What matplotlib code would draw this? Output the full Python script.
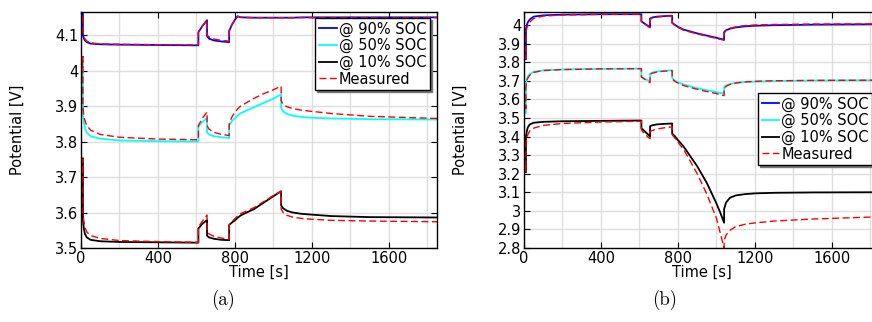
import matplotlib
matplotlib.use("Agg")
import matplotlib.pyplot as plt
from matplotlib.ticker import MultipleLocator, FuncFormatter

# ---------------- data ----------------
time_s = [0, 10, 10, 15, 20, 30, 50, 100, 200, 400,
          610, 610, 630, 655, 655, 665, 690, 730, 770, 770,
          785, 800, 814, 830, 900, 950, 1000, 1020, 1040, 1040,
          1050, 1070, 1100, 1150, 1200, 1300, 1500, 1850]

# panel (a)
a90_sim = [4.16, 4.20, 4.10, 4.09, 4.085, 4.08, 4.076, 4.074, 4.073, 4.072,
           4.071, 4.108, 4.125, 4.142, 4.097, 4.09, 4.085, 4.082, 4.080, 4.112,
           4.13, 4.143, 4.153, 4.150, 4.149, 4.149, 4.149, 4.149, 4.149, 4.149,
           4.149, 4.149, 4.149, 4.150, 4.150, 4.150, 4.150, 4.150]
a90_meas = [4.16, 4.20, 4.11, 4.095, 4.09, 4.083, 4.078, 4.075, 4.074, 4.073,
            4.072, 4.108, 4.125, 4.142, 4.10, 4.095, 4.089, 4.085, 4.083, 4.112,
            4.13, 4.143, 4.153, 4.150, 4.149, 4.149, 4.149, 4.149, 4.149, 4.149,
            4.149, 4.149, 4.149, 4.149, 4.149, 4.149, 4.149, 4.149]
a50_sim = [3.95, 4.038, 3.88, 3.855, 3.84, 3.825, 3.815, 3.808, 3.803, 3.801,
           3.80, 3.842, 3.855, 3.866, 3.826, 3.82, 3.815, 3.812, 3.81, 3.845,
           3.858, 3.866, 3.873, 3.88, 3.897, 3.909, 3.921, 3.927, 3.932, 3.895,
           3.885, 3.878, 3.873, 3.869, 3.867, 3.865, 3.863, 3.862]
a50_meas = [3.95, 4.04, 3.90, 3.87, 3.86, 3.845, 3.832, 3.82, 3.812, 3.807,
            3.805, 3.845, 3.865, 3.883, 3.845, 3.835, 3.826, 3.82, 3.817, 3.85,
            3.87, 3.882, 3.892, 3.90, 3.922, 3.935, 3.946, 3.951, 3.956, 3.915,
            3.905, 3.898, 3.893, 3.888, 3.885, 3.879, 3.871, 3.865]
a10_sim = [3.68, 3.753, 3.58, 3.555, 3.54, 3.53, 3.523, 3.519, 3.517, 3.516,
           3.515, 3.555, 3.568, 3.579, 3.535, 3.53, 3.526, 3.523, 3.522, 3.565,
           3.572, 3.578, 3.585, 3.592, 3.61, 3.628, 3.646, 3.653, 3.66, 3.62,
           3.612, 3.605, 3.60, 3.596, 3.594, 3.59, 3.587, 3.586]
a10_meas = [3.68, 3.75, 3.60, 3.575, 3.56, 3.545, 3.535, 3.527, 3.521, 3.518,
            3.516, 3.56, 3.575, 3.593, 3.545, 3.54, 3.533, 3.528, 3.525, 3.565,
            3.575, 3.583, 3.59, 3.597, 3.614, 3.631, 3.648, 3.654, 3.66, 3.61,
            3.60, 3.592, 3.587, 3.583, 3.581, 3.578, 3.576, 3.574]

# panel (b)
b90_sim = [3.90, 3.815, 3.98, 4.00, 4.015, 4.03, 4.045, 4.052, 4.056, 4.058,
           4.058, 4.02, 4.005, 3.988, 4.035, 4.04, 4.045, 4.048, 4.05, 4.012,
           4.0, 3.99, 3.983, 3.975, 3.955, 3.943, 3.931, 3.926, 3.922, 3.962,
           3.972, 3.98, 3.987, 3.993, 3.996, 3.999, 4.002, 4.004]
b90_meas = [3.90, 3.82, 3.96, 3.985, 4.0, 4.015, 4.035, 4.048, 4.054, 4.057,
            4.058, 4.02, 4.003, 3.985, 4.03, 4.037, 4.043, 4.047, 4.049, 4.01,
            3.998, 3.988, 3.98, 3.972, 3.952, 3.94, 3.928, 3.923, 3.918, 3.955,
            3.97, 3.982, 3.99, 3.997, 4.0, 4.003, 4.005, 4.006]
b50_sim = [3.60, 3.525, 3.68, 3.71, 3.725, 3.735, 3.748, 3.756, 3.761, 3.764,
           3.765, 3.722, 3.71, 3.697, 3.738, 3.744, 3.75, 3.754, 3.756, 3.714,
           3.70, 3.692, 3.686, 3.68, 3.66, 3.649, 3.639, 3.635, 3.632, 3.667,
           3.675, 3.682, 3.688, 3.693, 3.695, 3.698, 3.701, 3.703]
b50_meas = [3.62, 3.55, 3.67, 3.70, 3.715, 3.73, 3.745, 3.755, 3.76, 3.764,
            3.765, 3.72, 3.706, 3.69, 3.733, 3.74, 3.747, 3.752, 3.754, 3.71,
            3.696, 3.688, 3.681, 3.674, 3.654, 3.642, 3.631, 3.625, 3.62, 3.655,
            3.67, 3.68, 3.688, 3.694, 3.697, 3.700, 3.702, 3.703]
b10_sim = [3.30, 3.207, 3.40, 3.43, 3.45, 3.465, 3.474, 3.479, 3.482, 3.484,
           3.486, 3.445, 3.425, 3.40, 3.455, 3.46, 3.465, 3.468, 3.47, 3.416,
           3.40, 3.38, 3.365, 3.345, 3.24, 3.15, 3.04, 2.99, 2.936, 3.01,
           3.045, 3.07, 3.083, 3.09, 3.094, 3.097, 3.099, 3.10]
b10_meas = [3.30, 3.21, 3.35, 3.39, 3.41, 3.43, 3.445, 3.46, 3.47, 3.478,
            3.482, 3.435, 3.41, 3.388, 3.425, 3.432, 3.44, 3.447, 3.452, 3.41,
            3.39, 3.37, 3.35, 3.33, 3.20, 3.09, 2.96, 2.88, 2.80, 2.84,
            2.87, 2.895, 2.915, 2.928, 2.935, 2.945, 2.956, 2.968]

labels = ["@ 90% SOC", "@ 50% SOC", "@ 10% SOC", "Measured"]
sim_colors = ["#0000ff", "#00ffff", "#000000"]
meas_color = "#ff0000"
captions = ["(a)", "(b)"]

# ---------------- figure ----------------
W, H = 872, 322
fig = plt.figure(figsize=(W / 100, H / 100), dpi=100)

def px_axes(left, top, right, bottom):
    return fig.add_axes([left / W, 1 - bottom / H, (right - left) / W, (bottom - top) / H])

axA = px_axes(81, 12, 437, 248)
axB = px_axes(524, 12, 880, 248)

fmt = FuncFormatter(lambda v, p: ("%.1f" % v).rstrip("0").rstrip("."))

def style(ax, ylim):
    ax.set_xlim(0, 1850)
    ax.set_ylim(*ylim)
    ax.xaxis.set_major_locator(MultipleLocator(400))
    ax.xaxis.set_minor_locator(MultipleLocator(200))
    ax.yaxis.set_major_locator(MultipleLocator(0.1))
    ax.yaxis.set_major_formatter(fmt)
    ax.grid(True, which="both", color="#dedede", lw=1.0)
    ax.set_axisbelow(True)
    ax.tick_params(which="both", direction="in", top=True, right=True,
                   labelsize=10.5, pad=2, length=4, width=0.8)
    ax.tick_params(which="minor", length=0)
    for s in ax.spines.values():
        s.set_linewidth(1.0)
    ax.set_xlabel("Time [s]", fontsize=10.5, labelpad=-1)
    ax.set_ylabel("Potential [V]", fontsize=10.5)

panels = [
    (axA, [a90_sim, a50_sim, a10_sim], [a90_meas, a50_meas, a10_meas], (3.5, 4.165)),
    (axB, [b90_sim, b50_sim, b10_sim], [b90_meas, b50_meas, b10_meas], (2.8, 4.07)),
]

handles = {}
for ax, sims, meass, ylim in panels:
    hs = []
    for sim, col, lab in zip(sims, sim_colors, labels):
        h, = ax.plot(time_s, sim, color=col, lw=1.3, label=lab)
        hs.append(h)
    hm = None
    for m in meass:
        hm, = ax.plot(time_s, m, color=meas_color, lw=1.0, dashes=(5, 2.5), label=labels[3])
    hs.append(hm)
    style(ax, ylim)
    handles[ax] = hs

axA.yaxis.set_label_coords(-0.158, 0.5)
axB.yaxis.set_label_coords(-0.158, 0.5)

leg_kw = dict(borderaxespad=0, fontsize=10.5, handlelength=1.2, handletextpad=0.15,
              labelspacing=0.1, borderpad=0.25, fancybox=False, framealpha=1,
              edgecolor="black", shadow={"ox": 1.2, "oy": -1.2, "color": "#777777", "alpha": 1})
legA = axA.legend(handles=handles[axA], loc="upper right", bbox_to_anchor=(0.98, 0.975), **leg_kw)
legB = axB.legend(handles=handles[axB], loc="upper left", bbox_to_anchor=(0.657, 0.657), **leg_kw)
for leg in (legA, legB):
    leg.get_frame().set_linewidth(1.0)

fig.text(223 / W, 1 - 300 / H, captions[0], family="cmr10", fontsize=13.5, ha="center", va="center")
fig.text(665 / W, 1 - 300 / H, captions[1], family="cmr10", fontsize=13.5, ha="center", va="center")

fig.savefig("out.png", dpi=100)
